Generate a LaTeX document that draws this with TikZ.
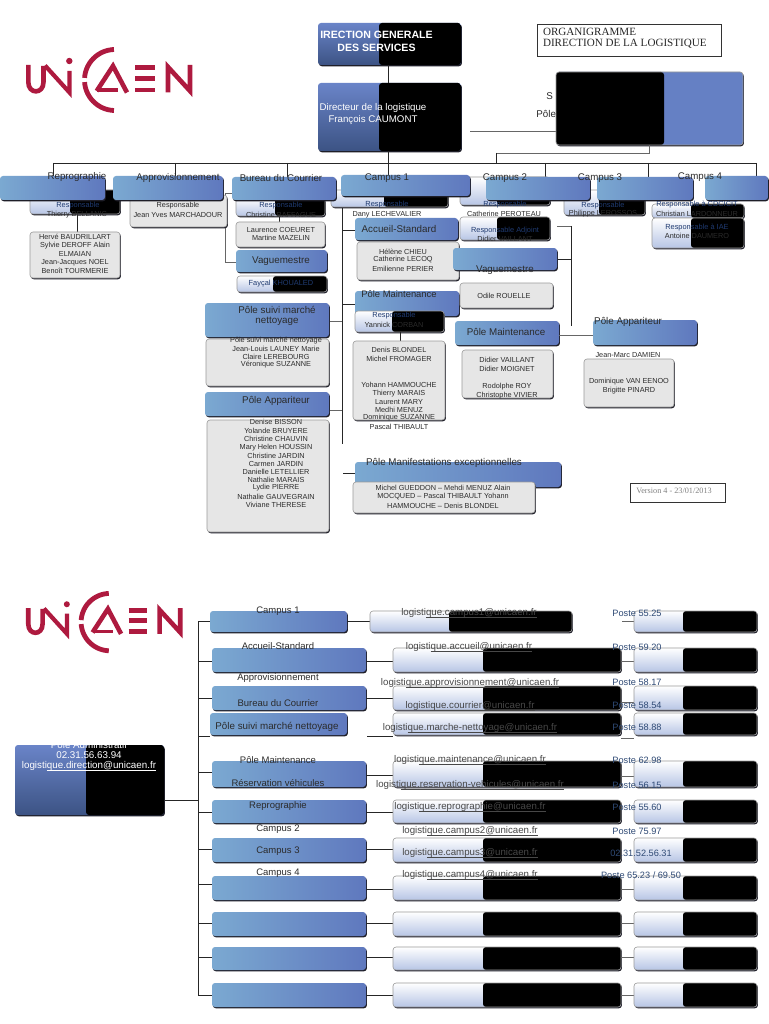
\documentclass[tikz,border=0pt]{standalone}
\usepackage{fontspec}
\setmainfont{Liberation Sans}
\newfontfamily\serifface{Liberation Serif}
\definecolor{ubluea}{HTML}{7BA9D1}
\definecolor{ublueb}{HTML}{5F78BE}
\definecolor{utop}{HTML}{6A84C8}
\definecolor{ubot}{HTML}{3C5384}
\definecolor{ulight}{HTML}{B7C5E5}
\definecolor{ugray}{HTML}{E6E6E6}
\definecolor{uedge}{HTML}{9A9A9A}
\definecolor{ushadow}{HTML}{1E1E28}
\definecolor{ured}{HTML}{AE1A3F}
\definecolor{uink}{HTML}{2B2B2B}
\definecolor{unavy}{HTML}{1F3A70}
\definecolor{uposte}{HTML}{2F4A75}
\definecolor{uright}{HTML}{6580C4}
\newcounter{txn}
\newcommand{\ulnk}[1]{\underline{\smash{#1}}}
\newcommand{\boxn}[6]{%
  \pgfmathsetmacro{\bcx}{(#3+#5)/2}\pgfmathsetmacro{\bcy}{(#4+#6)/2}%
  \pgfmathsetmacro{\bw}{#5-#3}\pgfmathsetmacro{\bh}{#6-#4}%
  \node[#1,minimum width=\bw pt,minimum height=\bh pt] (#2) at (\bcx,\bcy) {};}
% style, name, x1,y1,x2,y2, split x
\newcommand{\sboxn}[7]{%
  \pgfmathsetmacro{\bsp}{#7-#3}%
  \edef\bkey{blkright=\bsp}%
  \expandafter\boxnb\expandafter{\bkey}{#1}{#2}{#3}{#4}{#5}{#6}}
\newcommand{\boxnb}[7]{\boxn{#2,#1}{#3}{#4}{#5}{#6}{#7}}
\newcommand{\tx}[4]{\stepcounter{txn}\node[lbl,#3] (t\thetxn) at (#1,#2) {#4};}
\tikzset{
  lbl/.style={inner sep=0pt,outer sep=0pt,anchor=center,text=uink,font=\fontsize{7.3}{8}\selectfont},
  base/.style={inner sep=0pt,outer sep=0pt,rounded corners=3pt,
    preaction={fill=ushadow,draw=none,transform canvas={shift={(0.9pt,-1.3pt)}}}},
  bluebx/.style={base,left color=ubluea,right color=ublueb},
  lightbx/.style={base,top color=white,bottom color=ulight,draw=uedge,line width=0.6pt},
  graybx/.style={base,fill=ugray,draw=uedge,line width=0.6pt},
  headbx/.style={base,top color=utop,bottom color=ubot},
  blkright/.style={path picture={\fill[black] ([xshift=#1 pt]path picture bounding box.south west) rectangle (path picture bounding box.north east);}},
  link/.style={draw=black!85,line width=0.7pt},
  linkg/.style={draw=black!60,line width=0.8pt},
  big/.style={font=\fontsize{9.8}{11}\selectfont},
  mid/.style={font=\fontsize{9.7}{11}\selectfont},
  small/.style={font=\fontsize{7.3}{8}\selectfont},
  nav/.style={text=unavy,font=\fontsize{7.4}{8}\selectfont},
  mail/.style={text=black!72,font=\fontsize{9.7}{11}\selectfont},
  poste/.style={text=uposte,font=\fontsize{9.2}{11}\selectfont},
  white text/.style={text=white,font=\fontsize{9.8}{11}\selectfont},
  logostroke/.style={draw=ured,line cap=butt,line join=miter},
}
\newcommand{\unicaenlogo}[3]{%
 \begin{scope}[shift={(#1,#2)},x=#3pt,y=-#3pt]
  \draw[logostroke,line width=4.6pt] (0.3,0) -- (0.3,17) .. controls (0.3,29.5) and (15.5,29.5) .. (15.5,17) -- (15.5,1);
  \draw[logostroke,line width=4.2pt] (17,0.5) -- (41.5,27.5) -- (41.5,6);
  \fill[ured] (41.3,-4) circle (3.2);
  \draw[logostroke,line width=4.8pt] plot[smooth,domain=92:176,samples=20] ({87+30.5*cos(\x)},{15-30.5*sin(\x)});
  \draw[logostroke,line width=4.8pt] plot[smooth,domain=184:268,samples=20] ({87+30.5*cos(\x)},{15-30.5*sin(\x)});
  \draw[logostroke,line width=3.8pt] (68.7,25) -- (90,25);
  \draw[logostroke,line width=4.6pt] (68.7,26) -- (85,1) -- (99,27.5);
  \draw[logostroke,line width=4.8pt] (107,2.3) -- (127,2.3);
  \draw[logostroke,line width=4.8pt] (107,13.6) -- (127,13.6);
  \draw[logostroke,line width=4.8pt] (107,25) -- (127,25);
  \draw[logostroke,line width=4.6pt] (140,27.5) -- (140,2) -- (162,26) -- (162,0);
 \end{scope}}
\begin{document}
\begin{tikzpicture}[x=1pt,y=-1pt]
\useasboundingbox (0,0) rectangle (768,1024);
\fill[white] (0,0) rectangle (768,1024);
\unicaenlogo{28}{65}{1}
\unicaenlogo{28}{608}{0.94}

% ---------- top: trunk
\sboxn{headbx}{dgs}{318}{23}{461}{65}{379}
\sboxn{headbx}{dir}{318}{83}{461}{151}{379}
\draw[link] (388,65) -- (388,83);
\coordinate (tr) at (388,163);
\coordinate (tl) at (53,163);
\coordinate (te) at (756,163);
\draw[link] (388,151) -- (tr);
\draw[link] (tl) -- (te);
\node[draw=black!80,line width=0.7pt,fill=white,minimum width=184pt,minimum height=32pt,inner sep=0pt] (orga) at (629,40) {};
\tx{543}{32}{anchor=west,text=black!85,font=\serifface\fontsize{11.1}{12}\selectfont}{ORGANIGRAMME}
\tx{543}{44}{anchor=west,text=black!85,font=\serifface\fontsize{11.1}{12}\selectfont}{DIRECTION DE LA LOGISTIQUE}
\tx{376.5}{35}{text=white,font=\bfseries\fontsize{10.6}{11}\selectfont}{IRECTION GENERALE}
\tx{376.5}{48}{text=white,font=\bfseries\fontsize{10.6}{11}\selectfont}{DES SERVICES}
\tx{373}{108}{text=white,font=\fontsize{9.7}{11}\selectfont}{Directeur de la logistique}
\tx{373}{120}{text=white,font=\fontsize{9.7}{11}\selectfont}{François CAUMONT}

% big redacted box
\coordinate (dirr) at (470,131);
\draw[linkg] (dirr) -- (556,131);
\tx{553}{96}{anchor=east,big}{S}
\tx{556}{114}{anchor=east,big}{Pôle}
\node[base,fill=uright,draw=uedge,line width=0.7pt,minimum width=187pt,minimum height=73pt,
  path picture={\fill[black] (path picture bounding box.south west) rectangle ([xshift=-79pt]path picture bounding box.north east);}] (bigb) at (649.5,108.5) {};
\coordinate (bigd) at (649,153);
\coordinate (bigl) at (496,153);
\draw[linkg] (bigb.south -| bigd) -- (bigd) -- (bigl);
\draw[link] (bigl) -- (496,163);
\foreach \vx/\vb in {53/177,175/177,287/177,545/177,648/177,756/177}{\draw[link] (\vx,163) -- (\vx,\vb);}
\draw[link] (388,163) -- (388,176);

% ---------- left columns
\coordinate (lk1) at (77,214);
\draw[link] (lk1) -- (77,232);
\draw[link] (279,216) -- (279,222);
\draw[linkg] (232,193) -- (225.5,193) -- (225.5,262) -- (236,262);
\draw[link] (342,205) -- (342,444);
\draw[link] (342,230) -- (355,230);
\draw[link] (342,304) -- (355,304);
\draw[linkg] (329,321) -- (342,321);
\draw[linkg] (329,410) -- (342,410);
\draw[link] (343,473) -- (355,473);

\sboxn{lightbx}{rrepro}{30}{190}{120}{214}{70}
\boxn{graybx}{gappro}{130}{195}{227}{227}
\sboxn{lightbx}{rcour}{236}{198}{325}{216}{275}
\sboxn{lightbx}{rc1}{331}{190}{448}{207}{384}
\sboxn{lightbx}{rc2}{460}{177}{550}{205}{497}
\sboxn{lightbx}{rc3}{564}{190}{645}{215}{599}
\boxn{bluebx}{hrepro}{0}{176}{105}{200}
\boxn{bluebx}{happro}{113}{176}{223}{200}
\boxn{bluebx}{hcour}{232}{177}{336}{200}
\boxn{bluebx}{hc1}{341}{175}{470}{196}
\boxn{bluebx}{hc2}{486}{177}{590}{200}
\boxn{bluebx}{hc3}{597}{177}{693}{200}
\boxn{bluebx}{hc4}{705}{176}{768}{200}

\boxn{graybx}{gherve}{30}{232}{120}{278}
\boxn{graybx}{glaur}{236}{222}{325}{247}
\boxn{bluebx}{hvag}{236}{250}{327}{272}
\sboxn{lightbx}{rfay}{237}{276}{327}{292}{273}
\boxn{bluebx}{hsuivi}{205}{303}{329}{337}
\boxn{graybx}{gsuivi}{206}{339}{329}{386}
\boxn{bluebx}{happ}{205}{392}{329}{416}
\boxn{graybx}{gapp}{207}{420}{329}{532}

\boxn{graybx}{ghel}{357}{242}{459}{280}
\boxn{bluebx}{hacc}{355}{218}{458}{240}
\boxn{bluebx}{hpm}{355}{291}{459}{316}
\sboxn{lightbx}{rpm}{355}{311}{444}{332}{392}
\draw[link] (rpm.south -| 400,0) -- (400,341);
\boxn{graybx}{gpm}{353}{341}{445}{420}
\boxn{bluebx}{hman}{355}{462}{561}{487}
\boxn{graybx}{gman}{353}{482}{535}{513}

\sboxn{lightbx}{radj}{460}{217}{550}{240}{497}
\sboxn{lightbx}{rcdd}{652}{204}{744}{218}{691}
\sboxn{lightbx}{riae}{652}{218}{744}{248}{691}

% right side
\draw[linkg] (557,226) -- (571,226);
\draw[link] (571,226) -- (571,326);
\draw[link] (557,259) -- (571,259);
\boxn{bluebx}{hvag2}{453}{248}{557}{270}
\boxn{graybx}{godile}{460}{283}{553}{308}
\boxn{bluebx}{hpm2}{455}{321}{559}{345}
\boxn{bluebx}{happ2}{593}{320}{697}{345}
\draw[linkg] (hpm2.east |- 0,335) -- (happ2.west |- 0,335);
\boxn{graybx}{gpm2}{462}{350}{553}{398}
\boxn{graybx}{gapp2}{584}{359}{674}{407}
\node[draw=black!80,line width=0.7pt,minimum width=95pt,minimum height=19pt,inner sep=0pt] (vers) at (677.5,492.5) {};
\tx{674}{491}{text=black!50,font=\serifface\fontsize{8.2}{9}\selectfont}{Version 4 - 23/01/2013}

% titles
\tx{77}{177}{mid}{Reprographie}
\tx{178}{178}{mid}{Approvisionnement}
\tx{281}{178}{mid}{Bureau du Courrier}
\tx{387}{178}{mid}{Campus 1}
\tx{505}{178}{mid}{Campus 2}
\tx{600}{178}{mid}{Campus 3}
\tx{700}{177}{mid}{Campus 4}
\tx{281}{261}{big}{Vaguemestre}
\tx{277}{310}{big}{Pôle suivi marché}
\tx{277}{321}{big}{nettoyage}
\tx{276}{401}{big}{Pôle Appariteur}
\tx{399}{229}{big}{Accueil-Standard}
\tx{399}{294}{font=\fontsize{9.4}{11}\selectfont}{Pôle Maintenance}
\tx{444}{463}{big}{Pôle Manifestations exceptionnelles}
\tx{505}{270}{big}{Vaguemestre}
\tx{506}{332}{big}{Pôle Maintenance}
\tx{628}{322}{big}{Pôle Appariteur}

% people
\tx{78}{206}{nav}{Responsable}
\tx{77}{214.5}{small}{Thierry BELLANIC}
\tx{75}{237}{small}{Hervé BAUDRILLART}
\tx{75}{246}{small}{Sylvie DEROFF Alain}
\tx{75}{254}{small}{ELMAIAN}
\tx{75}{263}{small}{Jean-Jacques NOEL}
\tx{75}{271}{small}{Benoît TOURMERIE}
\tx{178}{206}{small}{Responsable}
\tx{178}{215}{small}{Jean Yves MARCHADOUR}
\tx{281}{206}{nav}{Responsable}
\tx{281}{215}{small}{Christine BAFFAGUE}
\tx{281}{230}{small}{Laurence COEURET}
\tx{281}{238}{small}{Martine MAZELIN}
\tx{281}{284}{nav}{Fayçal KHOUALED}
\tx{276}{341}{small}{Pôle suivi marché nettoyage}
\tx{276}{349}{small}{Jean-Louis LAUNEY Marie}
\tx{276}{357}{small}{Claire LEREBOURG}
\tx{276}{365}{small}{Véronique SUZANNE}
\foreach \yy/\nm in {422/Denise BISSON,430.5/Yolande BRUYERE,439/Christine CHAUVIN,448/Mary Helen HOUSSIN,456/Christine JARDIN,464/Carmen JARDIN,472/Danielle LETELLIER,480/Nathalie MARAIS,488/Lydie PIERRE,497/Nathalie GAUVEGRAIN,505/Viviane THERESE}{\tx{276}{\yy}{small}{\nm}}
\tx{387}{205}{nav}{Responsable}
\tx{387}{215}{small}{Dany LECHEVALIER}
\tx{403}{252}{small}{Hélène CHIEU}
\tx{403}{260}{small}{Catherine LECOQ}
\tx{403}{269}{small}{Emilienne PERIER}
\tx{394}{316}{nav}{Responsable}
\tx{394}{325}{small}{Yannick CORBAN}
\tx{399}{350}{small}{Denis BLONDEL}
\tx{399}{359}{small}{Michel FROMAGER}
\tx{399}{385}{small}{Yohann HAMMOUCHE}
\tx{399}{394}{small}{Thierry MARAIS}
\tx{399}{402}{small}{Laurent MARY}
\tx{399}{410}{small}{Medhi MENUZ}
\tx{399}{418}{small}{Dominique SUZANNE}
\tx{399}{427}{small}{Pascal THIBAULT}
\tx{443}{488}{small}{Michel GUEDDON – Mehdi MENUZ Alain}
\tx{443}{497}{small}{MOCQUED – Pascal THIBAULT Yohann}
\tx{443}{506}{small}{HAMMOUCHE – Denis BLONDEL}
\tx{505}{205}{nav}{Responsable}
\tx{504}{214}{small}{Catherine PEROTEAU}
\tx{505}{231}{nav}{Responsable Adjoint}
\tx{505}{239}{small}{Didier VAILLANT}
\tx{504}{296}{small}{Odile ROUELLE}
\tx{507}{360}{small}{Didier VAILLANT}
\tx{507}{369}{small}{Didier MOIGNET}
\tx{507}{387}{small}{Rodolphe ROY}
\tx{507}{396}{small}{Christophe VIVIER}
\tx{603}{206}{nav}{Responsable}
\tx{603}{214}{small}{Philippe LEROSSOS}
\tx{628}{355}{small}{Jean-Marc DAMIEN}
\tx{629}{382}{small}{Dominique VAN EENOO}
\tx{629}{391}{small}{Brigitte PINARD}
\tx{697}{205}{nav}{Responsable à CDCICIT}
\tx{697}{214}{small}{Christian LARDONNEUR}
\tx{697}{228}{nav}{Responsable à IAE}
\tx{697}{236}{small}{Antoine DAUMERO}

% ---------- bottom section
\sboxn{headbx}{pole}{15}{745}{164}{815}{86}
\coordinate (tb) at (198,621);
\coordinate (te2) at (198,995);
\draw[link] (tb) -- (te2);
\draw[link] (pole.east |- 0,800) -- (198,800);
\tx{89}{745}{white text}{Pôle Administratif}
\tx{89}{755}{white text}{02.31.56.63.94}
\tx{89}{766}{white text}{logisti\ulnk{que.direction@unicaen.fr}}

\foreach \n/\xa/\xb/\ya/\yb/\yt/\yl/\yr in {
 1/210/347/611/632/621/621/621,
 2/212/366/648/672/661/661/661,
 3/212/366/686/710/698/698/702,
 4/210/347/713/735/736/736/738,
 5/212/366/761/787/772/775/776,
 6/212/366/800/823/812/812/0,
 7/212/366/838/862/849/849/0,
 8/212/366/876/900/884/889/889,
 9/212/366/912/936/923/923/923,
 10/212/366/947/970/957/957/957,
 11/212/366/983/1007/995/995/995}{
  \draw[link] (198,\yt) -- (\xa,\yt);
  \boxn{bluebx}{b\n}{\xa}{\ya}{\xb}{\yb}
  \ifnum\n=1
    \draw[link] (b\n.east |- 0,\yl) -- (370,\yl);
    \sboxn{lightbx}{m\n}{370}{\ya}{572}{\yb}{449}
    \draw[linkg] (622,\yr) -- (634,\yr);
  \else
    \ifnum\n=4
      \draw[link] (367,\yl) -- (393,\yl);
    \else
      \draw[link] (366,\yl) -- (393,\yl);
    \fi
    \sboxn{lightbx}{m\n}{393}{\ya}{621}{\yb}{483}
    \ifnum\yr>0 \draw[linkg] (621,\yr) -- (634,\yr);\fi
  \fi
  \sboxn{lightbx}{r\n}{634}{\ya}{757}{\yb}{683}
}

\foreach \yy/\nm in {611.5/Campus 1,646/Accueil-Standard,678/Approvisionnement,703/Bureau du Courrier,760/Pôle Maintenance,783.5/Réservation véhicules,806/Reprographie,829/Campus 2,851/Campus 3,873/Campus 4}{\tx{278}{\yy}{font=\fontsize{9.5}{11}\selectfont}{\nm}}
\tx{277}{727}{font=\fontsize{9.8}{11}\selectfont}{Pôle suivi marché nettoyage}

\tx{469}{613}{mail}{logisti\ulnk{que.campus1@unicaen.fr}}
\tx{469}{647}{mail}{logisti\ulnk{que.accueil@unicaen.fr}}
\tx{470}{683}{mail}{logisti\ulnk{que.approvisionnement@unicaen.fr}}
\tx{470}{706}{mail}{logisti\ulnk{que.courrier@unicaen.fr}}
\tx{470}{728}{mail}{logisti\ulnk{que.marche-nettoyage@unicaen.fr}}
\tx{470}{760}{mail}{logisti\ulnk{que.maintenance@unicaen.fr}}
\tx{470}{785}{mail}{logisti\ulnk{que.reservation-vehicules@unicaen.fr}}
\tx{470}{807}{mail}{logisti\ulnk{que.reprographie@unicaen.fr}}
\tx{470}{831}{mail}{logisti\ulnk{que.campus2@unicaen.fr}}
\tx{470}{853}{mail}{logisti\ulnk{que.campus3@unicaen.fr}}
\tx{470}{875}{mail}{logisti\ulnk{que.campus4@unicaen.fr}}

\foreach \yy/\nm in {613/Poste 55.25,647/Poste 59.20,682/Poste 58.17,705/Poste 58.54,727/Poste 58.88,760/Poste 62.98,785/Poste 56.15,807/Poste 55.60,831/Poste 75.97}{\tx{637}{\yy}{poste}{\nm}}
\tx{641}{853}{poste}{02.31.52.56.31}
\tx{641}{875}{poste}{Poste 65.23 / 69.50}
\end{tikzpicture}
\end{document}
